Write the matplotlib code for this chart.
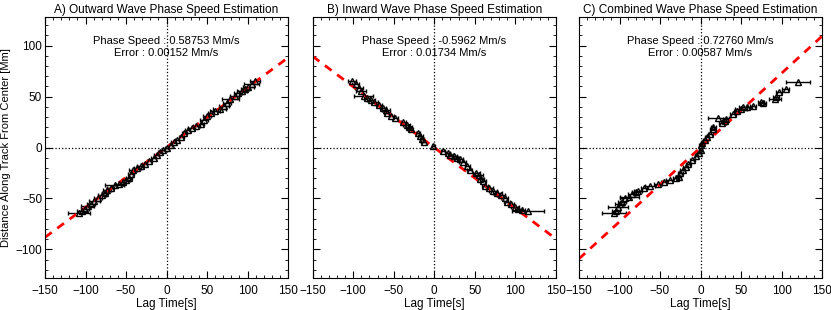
import matplotlib.pyplot as plt
import numpy as np

plt.rcParams['font.family'] = ['Liberation Sans', 'DejaVu Sans']

# A) outward wave: lag time [s], distance [Mm], lag error [s]
a_lag = [-108, -104, -101, -97, -93, -89, -85, -80, -76, -73, -69, -64, -59, -54, -50, -46, -44, -41,
         -36, -32, -27, -21, -16, -12, -8, -4, 0, 5, 9, 13, 18, 22, 26, 31, 37, 42, 46, 50, 55, 60,
         66, 71, 75, 79, 84, 88, 93, 97, 101, 105, 109]
a_dist = [-64, -62, -60, -57, -55, -52, -50, -47, -45, -42, -40, -37, -36, -34, -32, -30, -26, -22,
          -20, -18, -16, -13, -10, -7, -4, -2, 0, 2, 5, 7, 10, 14, 17, 19, 21, 23, 27, 31, 34, 36,
          38, 41, 44, 48, 51, 53, 55, 57, 59, 62, 65]
a_err = [13, 6, 5, 8, 5, 7, 5, 5, 4, 5, 4, 12, 5, 4, 5, 4, 4, 5,
         4, 4, 3, 3, 3, 3, 3, 2, 2, 2, 3, 3, 3, 3, 3, 4, 4, 4, 5, 5, 4, 6,
         8, 6, 5, 10, 6, 5, 6, 5, 7, 9, 6]

# B) inward wave
b_lag = [-101, -97, -93, -90, -87, -83, -78, -74, -68, -63, -60, -58, -53, -48, -38, -34, -31, -29,
         -20, -17, -15, -13, -1, 11, 17, 20, 25, 28, 32, 35, 41, 44, 52, 55, 57, 60, 63, 68, 73, 78,
         82, 87, 90, 95, 100, 104, 108, 116]
b_dist = [65, 62, 58, 55, 51, 49, 47, 45, 42, 39, 37, 34, 31, 29, 25, 22, 20, 18,
          14, 11, 8, 5, 1, -3, -5, -7, -8, -10, -11, -14, -18, -22, -25, -27, -31, -33, -38, -40, -43, -45,
          -47, -50, -53, -55, -58, -60, -61, -62]
b_err = [5, 4, 5, 6, 12, 4, 5, 4, 4, 4, 5, 4, 3, 3, 3, 4, 4, 3,
         3, 3, 3, 3, 2, 2, 3, 3, 3, 3, 4, 4, 3, 3, 4, 5, 4, 4, 4, 4, 5, 6,
         5, 4, 4, 4, 5, 4, 4, 20]

# C) combined
c_lag = [-107, -104, -102, -100, -97, -93, -88, -85, -80, -77, -70, -62, -52, -45, -38, -30, -27, -25,
         -22, -18, -15, -10, -5, -2, 0, 0, 2, 5, 8, 12, 15, 16, 22, 27, 30, 32, 40, 45, 50, 52,
         57, 65, 75, 77, 92, 93, 97, 105, 120]
c_dist = [-64, -62, -58, -55, -53, -50, -49, -46, -44, -43, -40, -38, -36, -34, -32, -30, -29, -25,
          -22, -19, -16, -12, -8, -5, -2, 2, 4, 7, 10, 13, 18, 20, 29, 24, 26, 28, 33, 36, 38, 40,
          40, 41, 45, 44, 48, 50, 54, 57, 64]
c_err = [15, 5, 12, 5, 5, 6, 12, 5, 5, 5, 4, 6, 5, 4, 4, 4, 3, 3,
         3, 3, 3, 3, 2, 2, 2, 2, 2, 2, 3, 3, 3, 3, 13, 4, 4, 4, 4, 4, 8, 5,
         6, 4, 4, 4, 7, 4, 4, 4, 15]

titles = ['A) Outward Wave Phase Speed Estimation',
          'B) Inward Wave Phase Speed Estimation',
          'C) Combined Wave Phase Speed Estimation']
speeds = ['0.58753', '-0.5962', '0.72760']
errors = ['0.00152', '0.01734', '0.00587']
slopes = [0.58753, -0.5962, 0.72760]

fig = plt.figure(figsize=(8.31, 3.10), dpi=100)
lefts = [45 / 831, 312.7 / 831, 579 / 831]
data = [(a_lag, a_dist, a_err), (b_lag, b_dist, b_err), (c_lag, c_dist, c_err)]

for i in range(3):
    ax = fig.add_axes([lefts[i], 32 / 310, 243 / 831, 261 / 310])
    lag, dist, err = data[i]
    ax.axhline(0, color='k', ls=':', lw=0.9)
    ax.axvline(0, color='k', ls=':', lw=0.9)
    ax.errorbar(lag, dist, xerr=err, fmt='^', mfc='none', mec='k', ms=5, mew=1.0,
                ecolor='k', elinewidth=1.0, capsize=1.5, capthick=1.0)
    xx = np.array([-150, 150])
    ax.plot(xx, slopes[i] * xx, color='red', ls=(0, (3, 2.5)), lw=2)
    ax.set_xlim(-150, 150)
    ax.set_ylim(-128, 128)
    ax.set_xticks([-150, -100, -50, 0, 50, 100, 150])
    ax.set_yticks([-100, -50, 0, 50, 100])
    ax.set_xticks(np.arange(-150, 151, 10), minor=True)
    ax.set_yticks(np.arange(-120, 121, 10), minor=True)
    ax.tick_params(which='both', direction='in', top=True, right=True, labelsize=8.5)
    ax.tick_params(axis='x', pad=5)
    ax.tick_params(axis='y', pad=2)
    ax.tick_params(which='major', length=5)
    ax.tick_params(which='minor', length=2.5)
    if i > 0:
        ax.set_yticklabels([])
    else:
        ax.set_ylabel('Distance Along Track From Center [Mm]', fontsize=8, labelpad=3)
    ax.set_xlabel('Lag Time[s]', fontsize=8.5, labelpad=1)
    ax.set_title(titles[i], fontsize=8.5, pad=3)
    ax.text(0, 104, 'Phase Speed : ' + speeds[i] + ' Mm/s', ha='center', va='center', fontsize=8)
    ax.text(0, 93, 'Error : ' + errors[i] + ' Mm/s', ha='center', va='center', fontsize=8)

plt.savefig('out.png', dpi=100)
